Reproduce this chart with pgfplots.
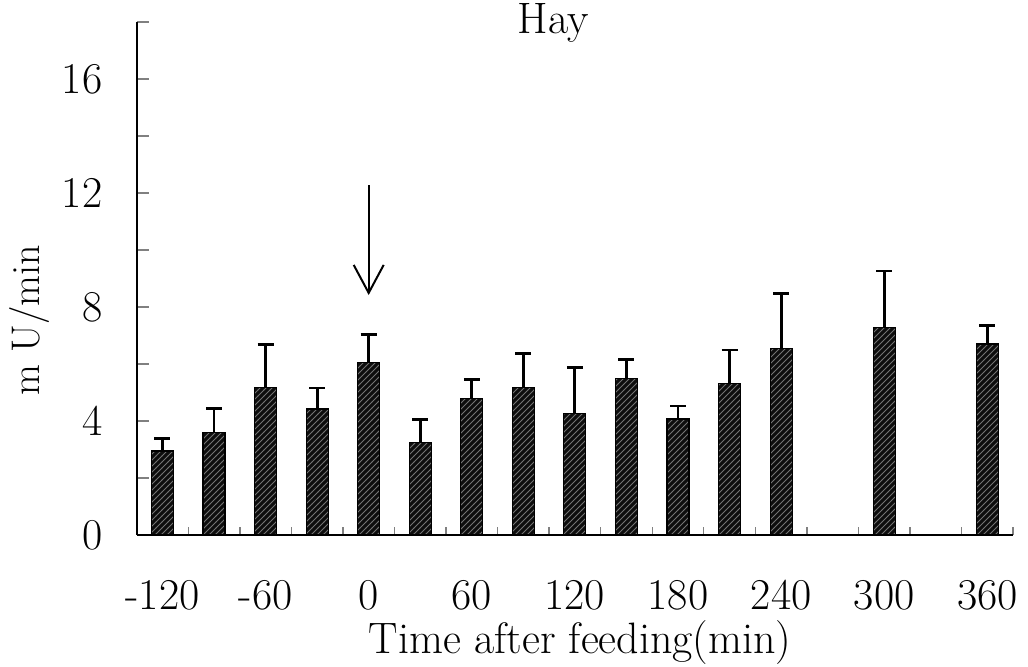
\documentclass[border=0pt]{standalone}
\usepackage{pgfplots}
\pgfplotsset{compat=1.18}
\usepackage{pgfplotstable}
\usetikzlibrary{arrows.meta,patterns}

\pgfplotstableread{
x    y     err
-120 2.95  0.45
-90  3.60  0.83
-60  5.18  1.50
-30  4.42  0.74
0    6.06  0.98
30   3.25  0.80
60   4.78  0.67
90   5.18  1.20
120  4.25  1.63
150  5.49  0.68
180  4.07  0.46
210  5.33  1.16
240  6.55  1.91
300  7.28  1.98
360  6.70  0.65
}\hay

\begin{document}
\begin{tikzpicture}
\begin{axis}[
  scale only axis,
  width=438.2pt, height=256.5pt,
  xmin=-135, xmax=375, ymin=0, ymax=18,
  axis lines*=left,
  axis line style={line width=1pt},
  xtick={-120,-60,...,360},
  minor xtick={-105,-75,...,375},
  major x tick style={draw=none},
  minor x tick style={line width=0.7pt},
  minor tick length=4pt,
  ytick={0,2,...,18},
  yticklabels={0,,4,,8,,12,,16,},
  major y tick style={line width=0.9pt},
  major tick length=6pt,
  tick align=inside,
  /pgf/number format/assume math mode=true,
  tick label style={font=\fontsize{22}{26}\selectfont, inner sep=0pt},
  xticklabel style={anchor=center, yshift=-30pt},
  yticklabel style={anchor=east, xshift=-17pt},
  title={Hay},
  title style={at={(rel axis cs:0.475,0.955)}, anchor=base, font=\fontsize{22}{26}\selectfont},
  xlabel={Time after feeding(min)},
  xlabel style={at={(rel axis cs:0.506,0)}, anchor=base, yshift=-59pt, inner sep=0pt, font=\fontsize{22}{26}\selectfont},
  ylabel={m U/min},
  ylabel style={at={(rel axis cs:-0.122,0.419)}, anchor=center, font=\fontsize{20}{24}\selectfont},
  clip=false,
]
\addplot[ybar, bar width=11pt, draw=black, line width=0.6pt, fill=black!95,
  postaction={pattern=north east lines, pattern color=black!55},
  error bars/.cd, y dir=plus, y explicit,
  error bar style={line width=1.4pt, black},
  error mark options={rotate=90, line width=1.4pt, mark size=4pt, black}]
  table[x=x, y=y, y error=err] {\hay};
\draw[line width=1pt, -{Straight Barb[length=14pt,width=15pt,line width=1pt]}]
  (axis cs:0,12.28) -- (axis cs:0,8.42);
\end{axis}
\pgfresetboundingbox
\path[use as bounding box] (-68.35pt,-65.5pt) rectangle (445.65pt,267.5pt);
\end{tikzpicture}
\end{document}
